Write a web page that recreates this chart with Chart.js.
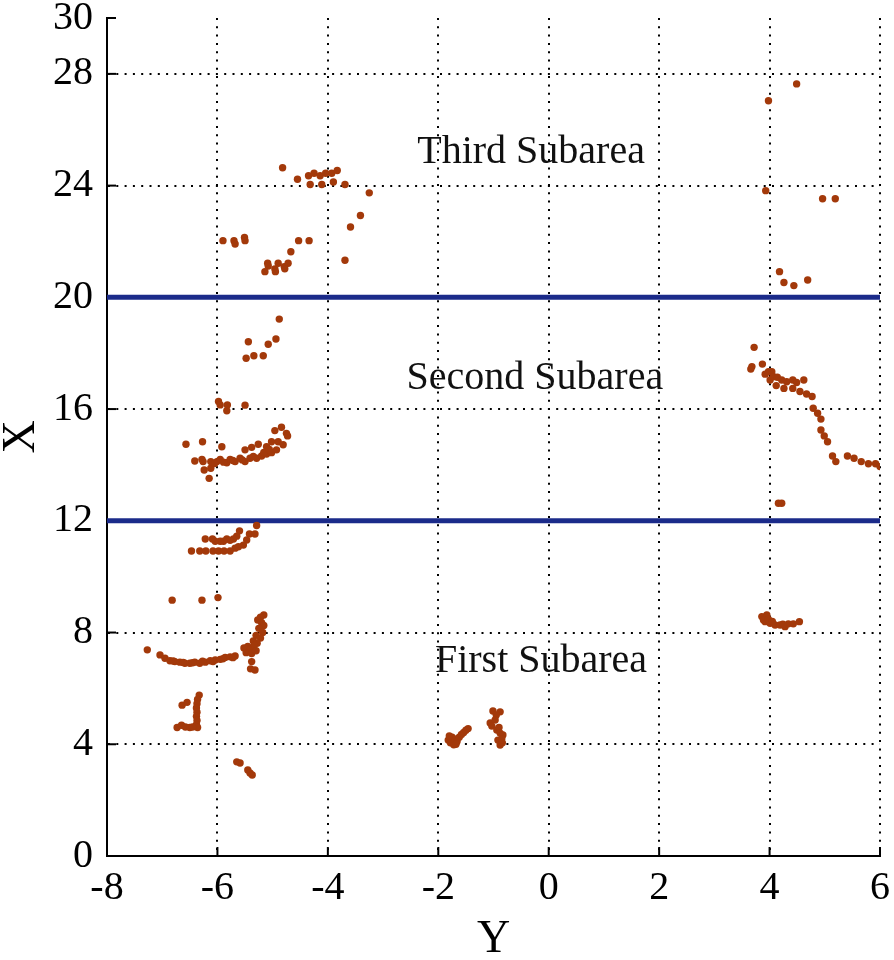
<!DOCTYPE html>
<html>
<head>
<meta charset="utf-8">
<script src="https://cdn.jsdelivr.net/npm/chart.js@4.4.0/dist/chart.umd.min.js"></script>
<style>
  html, body { margin: 0; padding: 0; background: #fff; }
</style>
</head>
<body>
<canvas id="chart" width="894" height="960"></canvas>
<script>
// horizontal axis is labelled "Y", vertical axis "X"
const xTicksH = [-8, -6, -4, -2, 0, 2, 4, 6];
const yTicksV = [0, 4, 8, 12, 16, 20, 24, 28, 30];
const boundaryLevels = [12, 20];
const subareaNames = ['Third Subarea', 'Second Subarea', 'First Subarea'];

// First subarea points (X < 12)
const firstY = [
  -6.82, -6.28, -5.99,
  -5.29, -5.42, -5.32, -5.60, -5.65, -5.71, -5.77, -5.83, -5.89, -5.95, -6.04, -6.09, -6.22, -5.47, -5.53, -5.62, -5.68,
  -6.47, -6.32, -6.21, -6.08, -5.98, -5.88, -5.77,
  -7.27, -7.04, -6.95, -6.86, -6.77, -6.68, -6.59, -6.50, -6.41, -6.32, -6.22, -6.13, -6.04, -5.95, -5.86, -5.77, -5.68,
  -6.80, -6.62, -6.45, -6.27, -6.08, -5.90, -5.72,
  -5.16, -5.22, -5.27, -5.20, -5.16, -5.25, -5.18, -5.30, -5.22, -5.35, -5.28, -5.45, -5.52, -5.40, -5.33, -5.48, -5.38, -5.30, -5.38, -5.40, -5.32,
  -6.33, -6.36, -6.37, -6.38, -6.37, -6.38, -6.37, -6.38, -6.36, -6.73, -6.65, -6.58, -6.50, -6.45, -6.64, -6.55,
  -5.65, -5.59, -5.45, -5.41, -5.37,
  -1.82, -1.78, -1.75, -1.72, -1.70, -1.66, -1.62, -1.58, -1.54, -1.50, -1.46, -1.80, -1.68,
  -1.01, -0.88, -0.95, -1.06, -0.97, -1.03, -0.94, -0.90, -0.88, -0.83, -0.92, -0.85, -0.88, -0.84,
  3.86, 3.95, 3.92, 4.01, 4.10, 4.19, 4.28, 4.34, 4.43, 4.54, 3.89, 3.98, 4.05, 4.24
];
const firstX = [
  9.16, 9.16, 9.25,
  11.83, 11.53, 11.53, 11.64, 11.45, 11.35, 11.30, 11.35, 11.27, 11.27, 11.27, 11.35, 11.35, 11.31, 11.13, 11.07, 11.02,
  10.92, 10.92, 10.92, 10.92, 10.92, 10.92, 10.92,
  7.38, 7.20, 7.08, 6.99, 6.96, 6.94, 6.90, 6.90, 6.94, 6.90, 6.94, 6.99, 7.02, 7.04, 7.11, 7.13, 7.16,
  6.98, 6.93, 6.92, 6.97, 6.96, 7.06, 7.10,
  8.63, 8.55, 8.45, 8.35, 8.25, 8.15, 8.00, 7.90, 7.80, 7.70, 7.62, 7.50, 7.45, 7.40, 7.55, 7.28, 7.25, 7.35, 6.96, 6.70, 6.66,
  5.76, 5.60, 5.45, 5.30, 5.15, 5.00, 4.85, 4.70, 4.60, 4.60, 4.68, 4.62, 4.60, 4.62, 5.40, 5.50,
  3.37, 3.33, 3.08, 2.97, 2.90,
  4.15, 4.05, 4.25, 3.98, 4.18, 4.10, 4.25, 4.35, 4.42, 4.50, 4.56, 4.30, 4.00,
  5.19, 5.16, 5.05, 4.76, 4.87, 4.65, 4.51, 4.60, 4.40, 4.33, 4.15, 4.20, 3.97, 4.05,
  8.57, 8.63, 8.39, 8.33, 8.27, 8.27, 8.21, 8.31, 8.31, 8.39, 8.45, 8.47, 8.40, 8.30
];

// Second subarea points (12 < X < 20)
const secondY = [
  4.16, 4.22,
  3.72, 3.68, 3.66, 3.87, 3.92, 3.98, 4.04, 4.01, 4.07, 4.14, 4.12, 4.22, 4.26, 4.31, 4.42, 4.42, 4.49, 4.55, 4.62, 4.67, 4.77,
  4.79, 4.87, 4.93, 4.93, 4.99, 5.05, 5.14, 5.20, 5.41, 5.53, 5.66, 5.79, 5.92, 6.00,
  -6.57, -6.27, -6.41, -6.28, -6.26, -6.24, -6.15, -6.12, -6.12, -6.01, -5.95, -5.83, -5.77, -5.68, -5.59, -5.50, -5.50,
  -5.38, -5.41, -5.29, -5.26, -5.20, -5.11, -5.11, -5.02, -5.02, -4.93, -4.90, -4.81, -4.96, -4.84, -4.75, -4.73, -5.92,
  -6.05, -5.89, -5.72, -5.55, -5.35, -5.16, -5.06,
  -5.98, -5.95, -5.83, -5.82, -5.50,
  -4.88, -4.94, -5.08, -5.44, -5.48, -5.34, -5.17
];
const secondX = [
  12.63, 12.63,
  18.21, 17.52, 17.43, 17.61, 17.25, 17.34, 17.34, 17.04, 17.16, 17.14, 16.84, 17.04, 16.74, 16.98, 17.04, 16.74, 16.95, 16.63, 17.04, 16.54, 16.45,
  16.03, 15.85, 15.64, 15.25, 15.04, 14.83, 14.32, 14.12, 14.32, 14.24, 14.12, 14.04, 14.04, 13.94,
  14.74, 14.83, 14.14, 14.20, 14.12, 13.82, 13.52, 13.88, 14.12, 14.12, 14.20, 14.08, 14.20, 14.12, 14.24, 14.12, 14.54,
  14.63, 14.24, 14.24, 14.74, 14.32, 14.39, 14.65, 14.44, 14.83, 14.54, 14.83, 14.72, 15.23, 15.35, 15.13, 15.04, 14.65,
  14.05, 14.10, 14.16, 14.18, 14.30, 14.45, 14.55,
  16.27, 16.15, 15.94, 16.15, 16.14,
  19.22, 18.51, 18.32, 18.41, 17.82, 17.91, 17.91
];

// Third subarea points (X > 20)
const thirdY = [
  -4.82, -4.55, -4.35, -4.25, -4.14, -4.04, -3.93, -3.83, -4.32, -4.11, -3.90, -3.69,
  -3.25, -3.41, -3.59, -3.69,
  -5.90, -5.70, -5.68, -5.51, -5.50, -4.53, -4.34, -4.67, -4.72, -4.90, -5.09, -5.08, -5.14, -4.96, -4.95, -4.79, -4.78,
  4.49, 3.98, 3.93, 4.96, 5.19, 4.18, 4.26, 4.44, 4.69
];
const thirdX = [
  24.64, 24.23, 24.35, 24.44, 24.35, 24.44, 24.44, 24.54, 24.04, 24.04, 24.13, 24.04,
  23.74, 22.93, 22.52, 21.33,
  22.03, 22.03, 21.91, 22.14, 22.03, 22.03, 22.03, 21.63, 21.22, 21.22, 21.22, 21.12, 20.92, 21.02, 20.92, 21.10, 21.02,
  27.64, 27.04, 23.82, 23.53, 23.53, 20.92, 20.53, 20.42, 20.62
];

const toPoints = (ys, xs) => ys.map((v, i) => ({ x: v, y: xs[i] }));

const pointColor = '#a3390a';
const lineColor = '#1b2b8a';
const serif = '"Liberation Serif", "Times New Roman", serif';

function pointSet(label, ys, xs) {
  return {
    label: label,
    data: toPoints(ys, xs),
    backgroundColor: pointColor,
    borderColor: pointColor,
    borderWidth: 0,
    pointRadius: 3.7,
    showLine: false
  };
}

const boundarySets = boundaryLevels.map(level => ({
  label: 'X = ' + level,
  data: [{ x: xTicksH[0], y: level }, { x: xTicksH[xTicksH.length - 1], y: level }],
  borderColor: lineColor,
  borderWidth: 5,
  pointRadius: 0,
  showLine: true
}));

// inward tick marks (under the data) and the subarea labels
const decorations = {
  id: 'decorations',
  beforeDatasetsDraw(chart) {
    const { ctx, chartArea, scales } = chart;
    ctx.save();
    ctx.strokeStyle = '#000';
    ctx.lineWidth = 2;
    yTicksV.forEach(v => {
      const py = scales.y.getPixelForValue(v);
      ctx.beginPath();
      ctx.moveTo(chartArea.left, py);
      ctx.lineTo(chartArea.left + 9, py);
      ctx.stroke();
    });
    xTicksH.forEach(v => {
      const px = scales.x.getPixelForValue(v);
      ctx.beginPath();
      ctx.moveTo(px, chartArea.bottom);
      ctx.lineTo(px, chartArea.bottom - 9);
      ctx.stroke();
    });
    ctx.restore();
  },
  afterDraw(chart) {
    const { ctx, scales } = chart;
    const spots = [[-0.32, 25.2], [-0.25, 17.1], [-0.14, 6.95]];
    ctx.save();
    ctx.fillStyle = '#111';
    ctx.font = '40px ' + serif;
    ctx.textAlign = 'center';
    ctx.textBaseline = 'middle';
    subareaNames.forEach((name, i) => {
      ctx.fillText(name, scales.x.getPixelForValue(spots[i][0]), scales.y.getPixelForValue(spots[i][1]));
    });
    ctx.restore();
  }
};

const ctx = document.getElementById('chart').getContext('2d');
new Chart(ctx, {
  type: 'scatter',
  data: {
    datasets: [
      pointSet('First Subarea', firstY, firstX),
      pointSet('Second Subarea', secondY, secondX),
      pointSet('Third Subarea', thirdY, thirdX),
      ...boundarySets
    ]
  },
  options: {
    responsive: false,
    animation: false,
    layout: { padding: { left: 0, right: 14, top: 18, bottom: 0 } },
    plugins: {
      legend: { display: false },
      tooltip: { enabled: false }
    },
    scales: {
      x: {
        type: 'linear',
        min: -8,
        max: 6,
        afterBuildTicks: axis => { axis.ticks = xTicksH.map(v => ({ value: v })); },
        afterFit: axis => { axis.height = 104; axis.paddingLeft = 0; axis.paddingRight = 0; },
        ticks: { color: '#000', font: { family: serif, size: 40 }, padding: 8 },
        grid: {
          drawTicks: false,
          color: c => (c.tick && c.tick.value === -8) ? 'rgba(0,0,0,0)' : '#000',
          lineWidth: 2
        },
        border: { display: true, color: '#000', width: 2, dash: [2, 6.3] },
        title: { display: true, text: 'Y', color: '#000', font: { family: serif, size: 46 }, padding: { top: 0, bottom: -8 } }
      },
      y: {
        type: 'linear',
        min: 0,
        max: 30,
        afterBuildTicks: axis => { axis.ticks = yTicksV.map(v => ({ value: v })); },
        afterFit: axis => { axis.width = 107; axis.paddingTop = 0; axis.paddingBottom = 0; },
        ticks: { color: '#000', font: { family: serif, size: 40 }, padding: 14 },
        grid: {
          drawTicks: false,
          color: c => (c.tick && (c.tick.value === 0 || c.tick.value === 30)) ? 'rgba(0,0,0,0)' : '#000',
          lineWidth: 2
        },
        border: { display: true, color: '#000', width: 2, dash: [2, 6.3] },
        title: { display: true, text: 'X', color: '#000', font: { family: serif, size: 46 }, padding: { top: -6, bottom: 0 } }
      }
    }
  },
  plugins: [decorations]
});
</script>
</body>
</html>
